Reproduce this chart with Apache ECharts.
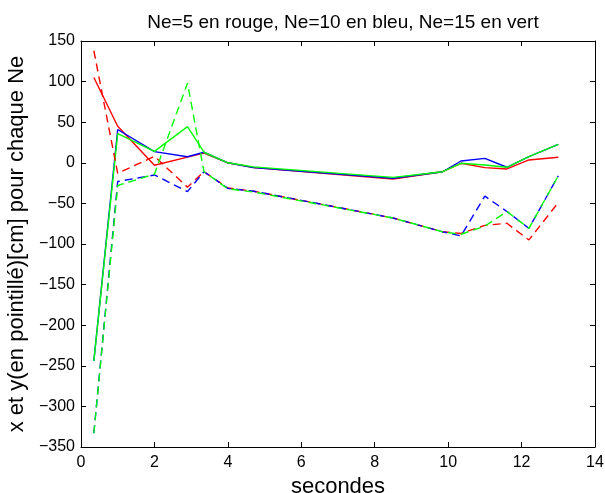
<!DOCTYPE html>
<html>
<head>
<meta charset="utf-8">
<script src="https://cdn.jsdelivr.net/npm/echarts@6/dist/echarts.min.js"></script>
<style>
html,body{margin:0;padding:0;background:#fff;overflow:hidden;width:605px;height:493px;}
#chart{width:605px;height:493px;position:absolute;left:0;top:0;}
</style>
</head>
<body>
<div id="chart"></div>
<script>
// Time points (seconds)
var times = [0.35, 1.0, 2.0, 2.9, 3.35, 4.0, 4.7, 8.5, 9.85, 10.35, 11.0, 11.6, 12.2, 13.0];

// Solid lines: x
var xNe5  = [105, 45, -3, 7, 12, 0, -6, -20, -11, -0.6, -6, -7.6, 3.5, 6.8];
var xNe10 = [-244, 41, 13.7, 7.5, 13, 0, -6, -19, -11, 2.2, 5.5, -5.5, 7.5, 22.8];
var xNe15 = [-244, 36, 14, 44.5, 13, 0, -5, -18, -11, -0.6, -2.7, -5.5, 7.5, 22.8];

// Dashed lines: y
var yNe5  = [138, -13, 8, -30, -11, -31, -35, -68, -85, -87, -77, -74.5, -95, -49];
var yNe10 = [-333, -23, -15, -35.5, -11, -31.5, -35, -68, -85, -90, -41, -60, -80.7, -16];
var yNe15 = [-333, -28, -14, 98, -11, -32, -36, -68, -85, -88, -78, -60, -80.7, -16];

var xTicks = [0, 2, 4, 6, 8, 10, 12, 14];
var yTicks = [-350, -300, -250, -200, -150, -100, -50, 0, 50, 100, 150];

function pairs(vals) {
  return times.map(function (t, i) { return [t, vals[i]]; });
}

var FONT = '"Liberation Sans", Arial, Helvetica, sans-serif';
var RED = '#ff0000', BLUE = '#0000ff', GREEN = '#00ff00';
var dash = [8, 5];

function mk(name, vals, color, dashed) {
  return {
    name: name, type: 'line', data: pairs(vals),
    showSymbol: false, symbol: 'none', silent: true,
    xAxisIndex: 0, yAxisIndex: 0,
    lineStyle: { color: color, width: 1.4, type: dashed ? dash : 'solid' },
    itemStyle: { color: color }
  };
}

var chart = echarts.init(document.getElementById('chart'), null, { renderer: 'canvas', width: 605, height: 493 });
var minus = function (v) { return String(v).replace('-', '\u2212'); };
chart.setOption({
  animation: false,
  backgroundColor: '#ffffff',
  title: {
    text: 'Ne=5 en rouge, Ne=10 en bleu, Ne=15 en vert',
    left: 338, top: 8, textAlign: 'center',
    textStyle: { fontFamily: FONT, fontSize: 19, fontWeight: 'normal', color: '#000' }
  },
  grid: { left: 81, right: 10, top: 41, bottom: 46, containLabel: false, outerBoundsMode: 'none' },
  xAxis: [{
    type: 'value', position: 'bottom',
    min: xTicks[0], max: xTicks[xTicks.length - 1], interval: 2,
    name: 'secondes', nameLocation: 'middle', nameGap: 27,
    nameTextStyle: { fontFamily: FONT, fontSize: 22, color: '#000' },
    axisLine: { show: true, onZero: false, lineStyle: { color: '#000', width: 1 } },
    axisTick: { show: true, inside: true, length: 5, lineStyle: { color: '#000' } },
    axisLabel: { margin: 8, fontFamily: FONT, fontSize: 16, color: '#000', formatter: minus },
    splitLine: { show: false }
  }, {
    type: 'value', position: 'top',
    min: xTicks[0], max: xTicks[xTicks.length - 1], interval: 2,
    axisLine: { show: true, onZero: false, lineStyle: { color: '#000', width: 1 } },
    axisTick: { show: true, inside: true, length: 5, lineStyle: { color: '#000' } },
    axisLabel: { show: false }, splitLine: { show: false }
  }],
  yAxis: [{
    type: 'value', position: 'left',
    min: yTicks[0], max: yTicks[yTicks.length - 1], interval: 50,
    name: 'x et y(en pointillé)[cm] pour chaque Ne', nameLocation: 'middle', nameGap: 50,
    nameTextStyle: { fontFamily: FONT, fontSize: 22, color: '#000' },
    axisLine: { show: true, onZero: false, lineStyle: { color: '#000', width: 1 } },
    axisTick: { show: true, inside: true, length: 5, lineStyle: { color: '#000' } },
    axisLabel: { margin: 6, fontFamily: FONT, fontSize: 16, color: '#000', formatter: minus },
    splitLine: { show: false }
  }, {
    type: 'value', position: 'right',
    min: yTicks[0], max: yTicks[yTicks.length - 1], interval: 50,
    axisLine: { show: true, onZero: false, lineStyle: { color: '#000', width: 1 } },
    axisTick: { show: true, inside: true, length: 5, lineStyle: { color: '#000' } },
    axisLabel: { show: false }, splitLine: { show: false }
  }],
  series: [
    mk('x Ne=5', xNe5, RED, false),
    mk('x Ne=10', xNe10, BLUE, false),
    mk('x Ne=15', xNe15, GREEN, false),
    mk('y Ne=5', yNe5, RED, true),
    mk('y Ne=10', yNe10, BLUE, true),
    mk('y Ne=15', yNe15, GREEN, true)
  ]
});
</script>
</body>
</html>
